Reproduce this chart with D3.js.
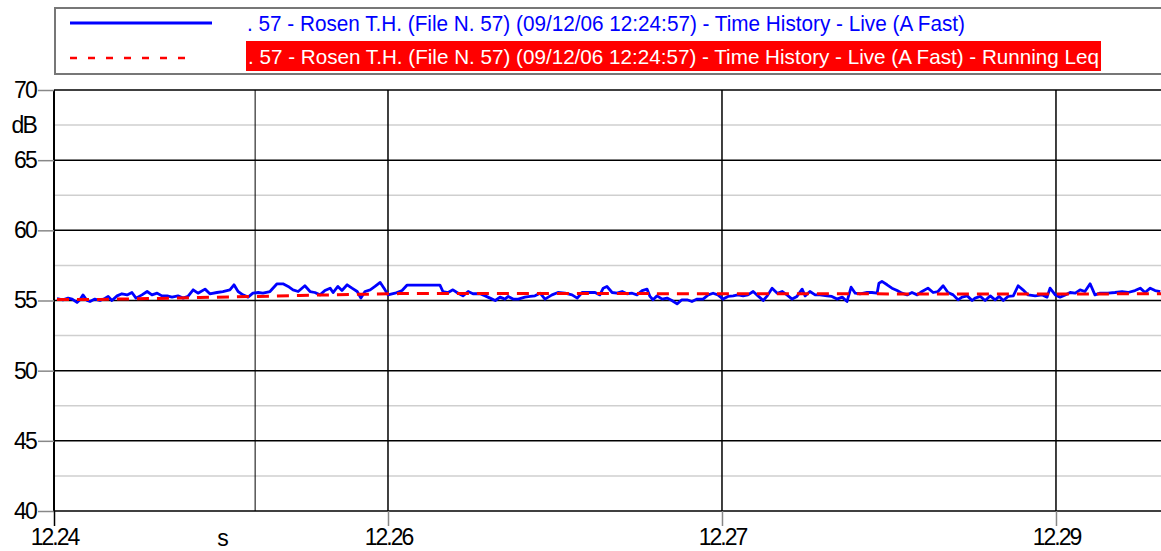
<!DOCTYPE html>
<html>
<head>
<meta charset="utf-8">
<script src="https://cdn.jsdelivr.net/npm/d3@7"></script>
<style>
  body { margin: 0; background: #fff; }
  text { font-family: "Liberation Sans", Arial, sans-serif; }
</style>
</head>
<body>
<svg id="chart" width="1161" height="551"></svg>
<script>
// time in seconds from 12:24:57, ticks every 90 s
var xTicks = [0, 90, 180, 270];
var xTickLabels = ["12.24", "12.26", "12.27", "12.29"];
var cursorT = 54.2;
var yTicks = [40, 45, 50, 55, 60, 65, 70];
var yMinor = [42.5, 47.5, 52.5, 57.5, 62.5, 67.5];

var legendLabels = [
  ". 57 - Rosen T.H.  (File N. 57) (09/12/06 12:24:57) - Time History - Live (A Fast)",
  ". 57 - Rosen T.H.  (File N. 57) (09/12/06 12:24:57) - Time History - Live (A Fast) - Running Leq"
];

// blue: Time History (A Fast)
var liveT = [0.8,2.4,3.8,4.9,6.2,7.0,7.8,8.9,9.7,11.0,12.4,13.7,14.6,15.6,17.0,18.3,19.7,21.0,22.1,23.7,25.1,26.4,27.8,29.1,30.5,31.8,33.4,34.8,36.1,37.5,38.8,40.7,42.0,43.9,45.5,47.4,48.5,49.6,50.9,52.3,53.6,55.0,56.3,58.2,60.1,61.7,63.1,64.4,65.8,67.6,69.0,70.3,71.7,73.0,
  74.4,75.2,76.5,77.6,79.0,80.3,81.7,82.7,83.8,85.2,86.5,87.9,89.2,90.0,91.9,93.8,95.1,104.0,104.8,106.2,107.5,108.9,110.2,111.6,112.9,114.8,116.2,117.5,118.9,120.2,121.5,122.4,123.7,125.1,126.9,128.3,129.6,131.0,132.3,134.2,135.8,137.7,139.6,141.0,142.3,143.9,145.8,147.1,148.0,
  149.0,150.4,151.7,153.1,154.4,155.8,157.1,158.5,159.8,160.6,161.4,162.5,163.9,165.2,166.5,167.9,169.2,170.6,171.9,173.3,174.9,176.3,177.6,178.9,180.3,181.6,183.0,184.3,185.7,187.0,188.4,189.7,191.1,192.2,193.5,194.9,196.2,197.5,198.9,200.2,201.6,202.4,203.7,205.1,206.4,208.3,209.6,211.0,212.4,213.7,214.8,215.9,217.2,219.1,220.4,221.8,222.3,
  223.1,224.5,225.8,227.2,228.5,229.9,231.2,232.6,233.9,235.5,236.9,238.2,239.6,240.9,242.3,243.6,244.7,246.1,247.4,248.2,249.6,250.9,252.3,253.6,254.7,255.8,257.1,258.5,259.8,261.1,262.5,264.4,266.3,267.6,268.4,269.8,271.1,272.5,273.8,275.2,276.5,277.8,279.2,280.5,281.9,284.0,285.9,287.8,289.4,291.3,292.7,294.0,295.4,296.7,298.1];
var liveDb = [55.14,55.05,55.17,55.10,54.86,55.05,55.40,55.00,54.93,55.10,55.00,55.14,55.29,55.00,55.33,55.48,55.40,55.57,55.17,55.40,55.64,55.40,55.52,55.33,55.33,55.24,55.33,55.17,55.29,55.76,55.52,55.81,55.48,55.57,55.64,55.76,56.12,55.64,55.40,55.24,55.52,55.57,55.52,55.64,56.19,56.19,56.00,55.76,55.64,56.05,55.64,55.57,55.40,55.71,
  55.88,55.57,56.00,55.71,56.12,55.88,55.64,55.17,55.64,55.76,56.00,56.29,55.76,55.40,55.52,55.71,56.09,56.09,55.64,55.57,55.76,55.52,55.33,55.64,55.48,55.48,55.33,55.17,55.00,55.24,55.10,55.29,55.10,55.10,55.24,55.29,55.33,55.52,55.10,55.40,55.57,55.52,55.40,55.17,55.57,55.57,55.57,55.40,55.88,
  56.00,55.57,55.52,55.64,55.48,55.52,55.40,55.71,55.81,55.29,55.05,55.33,55.10,55.17,55.00,54.76,55.05,55.05,54.93,55.10,55.10,55.40,55.52,55.40,55.10,55.29,55.33,55.40,55.33,55.40,55.64,55.33,55.00,55.33,55.88,55.52,55.64,55.40,55.10,55.29,55.81,55.33,55.64,55.40,55.40,55.33,55.29,55.10,55.24,54.93,55.95,55.52,55.48,55.57,55.57,55.52,56.24,
  56.36,56.12,55.88,55.71,55.52,55.40,55.57,55.40,55.64,55.88,55.57,55.64,56.05,55.57,55.40,55.05,55.24,55.33,55.00,55.17,55.29,55.00,55.33,55.05,55.29,55.00,55.29,55.33,56.05,55.76,55.40,55.33,55.40,55.24,55.88,55.40,55.24,55.40,55.57,55.52,55.76,55.64,56.19,55.40,55.52,55.52,55.57,55.64,55.57,55.71,55.88,55.57,55.88,55.71,55.64];

// red: Running Leq
var leqT = [0.8,12.4,25.9,39.3,52.8,66.3,79.8,93.2,120.2,147.1,174.1,201.0,228.0,254.9,281.9,298.3];
var leqDb = [55.08,55.08,55.14,55.21,55.28,55.36,55.43,55.49,55.50,55.50,55.48,55.48,55.47,55.47,55.47,55.48];

(function () {
  var svg = d3.select("#chart");
  var plotLeft = 54, plotTop = 90, plotRight = 1161, plotBottom = 511;
  var font = "Liberation Sans, Arial, sans-serif";

  var x = d3.scaleLinear().domain([0, 298.3]).range([plotLeft, plotRight]);
  var y = d3.scaleLinear().domain([40, 70]).range([plotBottom, plotTop]);

  // minor grid
  svg.append("g").selectAll("line").data(yMinor).enter().append("line")
    .attr("x1", plotLeft).attr("x2", plotRight)
    .attr("y1", function (d) { return y(d); }).attr("y2", function (d) { return y(d); })
    .attr("stroke", "#cfcfcf").attr("stroke-width", 1.5);

  // major grid
  svg.append("g").selectAll("line").data(yTicks).enter().append("line")
    .attr("x1", plotLeft).attr("x2", plotRight)
    .attr("y1", function (d) { return y(d); }).attr("y2", function (d) { return y(d); })
    .attr("stroke", "#000").attr("stroke-width", 1.5);

  svg.append("g").selectAll("line").data(xTicks).enter().append("line")
    .attr("x1", function (d) { return x(d); }).attr("x2", function (d) { return x(d); })
    .attr("y1", plotTop).attr("y2", plotBottom)
    .attr("stroke", "#000").attr("stroke-width", function (d) { return d === 0 ? 2 : 1.5; });

  // cursor line
  svg.append("line")
    .attr("x1", x(cursorT)).attr("x2", x(cursorT))
    .attr("y1", plotTop).attr("y2", plotBottom)
    .attr("stroke", "#000").attr("stroke-width", 1);

  // axes
  var yAxis = d3.axisLeft(y).tickValues(yTicks).tickSize(16).tickPadding(2);
  var gy = svg.append("g").attr("transform", "translate(" + plotLeft + ",0)").call(yAxis);
  gy.select(".domain").remove();
  gy.selectAll(".tick line").attr("stroke", "#888").attr("stroke-width", 1.5);
  gy.selectAll(".tick text").attr("font-size", 23).attr("letter-spacing", "-1.8px")
    .attr("fill", "#000").attr("font-family", font);

  var xAxis = d3.axisBottom(x).tickValues(xTicks).tickSize(15).tickPadding(3)
    .tickFormat(function (d, i) { return xTickLabels[i]; });
  var gx = svg.append("g").attr("transform", "translate(0," + plotBottom + ")").call(xAxis);
  gx.select(".domain").remove();
  gx.selectAll(".tick line").attr("stroke", function (d) { return d === 0 ? "#000" : "#888"; }).attr("stroke-width", 1.5);
  gx.selectAll(".tick text").attr("font-size", 23).attr("letter-spacing", "-2px")
    .attr("fill", "#000").attr("font-family", font);

  svg.append("text").attr("x", 36).attr("y", 125).attr("dy", "0.35em")
    .attr("text-anchor", "end").attr("font-size", 23).attr("letter-spacing", "-1.8px").text("dB");
  svg.append("text").attr("x", 223).attr("y", 546)
    .attr("text-anchor", "middle").attr("font-size", 23).text("s");

  // series
  svg.append("clipPath").attr("id", "plot").append("rect")
    .attr("x", plotLeft).attr("y", plotTop).attr("width", plotRight - plotLeft).attr("height", plotBottom - plotTop);

  var liveLine = d3.line()
    .x(function (d, i) { return x(liveT[i]); })
    .y(function (d) { return y(d); });
  var leqLine = d3.line()
    .x(function (d, i) { return x(leqT[i]); })
    .y(function (d) { return y(d); });

  svg.append("path").datum(liveDb)
    .attr("clip-path", "url(#plot)")
    .attr("d", liveLine)
    .attr("fill", "none").attr("stroke", "#0000ff").attr("stroke-width", 2.8)
    .attr("stroke-linejoin", "round");

  svg.append("path").datum(leqDb)
    .attr("clip-path", "url(#plot)")
    .attr("d", leqLine)
    .attr("fill", "none").attr("stroke", "#ff0000").attr("stroke-width", 3)
    .attr("stroke-dasharray", "12,8");

  // legend
  var lg = svg.append("g");
  lg.append("rect").attr("x", 55).attr("y", 8).attr("width", 1140).attr("height", 66)
    .attr("fill", "#fff").attr("stroke", "#777").attr("stroke-width", 2);
  lg.append("line").attr("x1", 70).attr("x2", 212).attr("y1", 23).attr("y2", 23)
    .attr("stroke", "#0000ff").attr("stroke-width", 3);
  lg.append("line").attr("x1", 70).attr("x2", 190).attr("y1", 58).attr("y2", 58)
    .attr("stroke", "#ff0000").attr("stroke-width", 2.5).attr("stroke-dasharray", "7,11");
  lg.append("text").attr("x", 247).attr("y", 31).attr("font-size", 22)
    .attr("textLength", 718).attr("lengthAdjust", "spacingAndGlyphs")
    .attr("fill", "#0000ff").text(legendLabels[0]);
  lg.append("rect").attr("x", 246).attr("y", 41).attr("width", 855).attr("height", 30)
    .attr("fill", "#ff0000");
  lg.append("text").attr("x", 248).attr("y", 64).attr("font-size", 21)
    .attr("textLength", 851).attr("lengthAdjust", "spacingAndGlyphs")
    .attr("fill", "#fff").text(legendLabels[1]);
})();
</script>
</body>
</html>
